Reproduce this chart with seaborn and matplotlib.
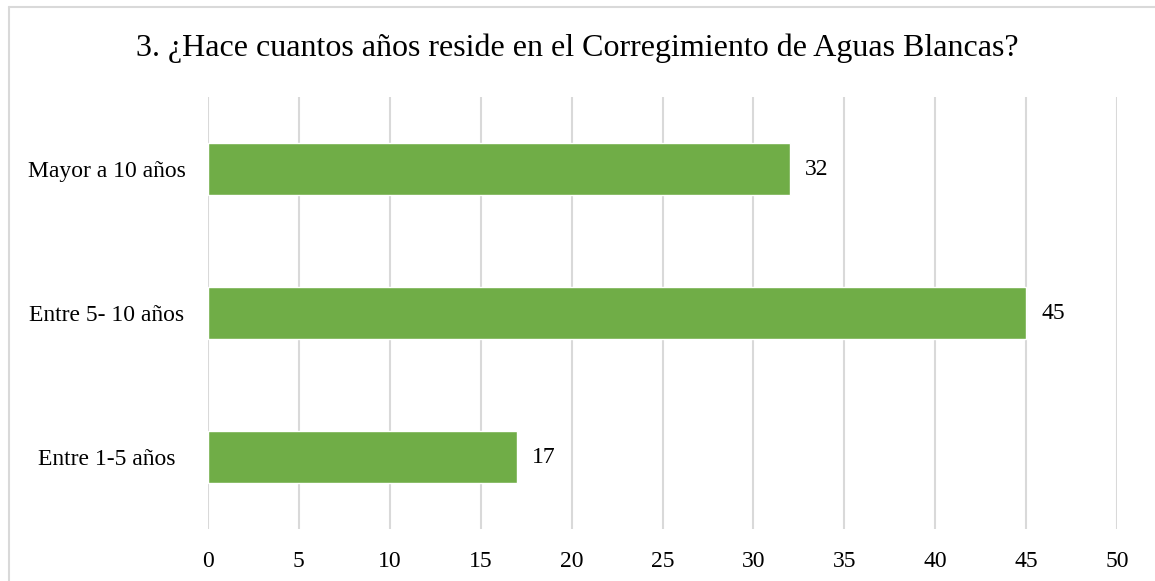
import matplotlib
matplotlib.use("Agg")
import matplotlib.pyplot as plt
from matplotlib.lines import Line2D
import pandas as pd
import seaborn as sns

# data
categorias = ["Mayor a 10 años", "Entre 5- 10 años", "Entre 1-5 años"]
valores = [32, 45, 17]
ticks_x = [0, 5, 10, 15, 20, 25, 30, 35, 40, 45, 50]
titulo = "3. ¿Hace cuantos años reside en el Corregimiento de Aguas Blancas?"

df = pd.DataFrame({"categoria": categorias, "valor": valores})

sns.set_theme(style="whitegrid")
plt.rcParams["font.family"] = ["Liberation Serif", "DejaVu Serif"]

W, H = 1155, 581
fig = plt.figure(figsize=(W / 100, H / 100), dpi=100)
ax = fig.add_axes([208 / W, 1 - 529 / H, (1117 - 208) / W, (529 - 97) / H])

sns.barplot(data=df, x="valor", y="categoria", orient="h", color="#70AD47",
            width=0.36, saturation=1, ax=ax)

ax.set_xlim(0, 50)
ax.set_xticks(ticks_x)
ax.set_ylim(2.5, -0.5)
ax.set_xlabel("")
ax.set_ylabel("")
ax.grid(axis="y", visible=False)
ax.grid(axis="x", color="#D9D9D9", linewidth=1.5)
ax.set_axisbelow(True)
for s in ax.spines.values():
    s.set_visible(False)

ax.tick_params(axis="x", length=0, pad=16, labelsize=17, labelcolor="black")
ax.tick_params(axis="y", length=0, pad=73, labelsize=17, labelcolor="black")
for lab in ax.get_yticklabels():
    lab.set_horizontalalignment("center")

for cont in ax.containers:
    ax.bar_label(cont, padding=11, fontsize=17, color="black")

fig.text(0.5, 1 - 48 / H, titulo, ha="center", va="center", fontsize=23,
         color="black")

# light frame around the chart area
fig.add_artist(Line2D([9 / W, 9 / W], [0, 1 - 7 / H], transform=fig.transFigure,
                      color="#D9D9D9", linewidth=1.5))
fig.add_artist(Line2D([9 / W, 1.01], [1 - 7 / H, 1 - 7 / H], transform=fig.transFigure,
                      color="#D9D9D9", linewidth=1.5))

fig.savefig("out.png", dpi=100, facecolor="white")
